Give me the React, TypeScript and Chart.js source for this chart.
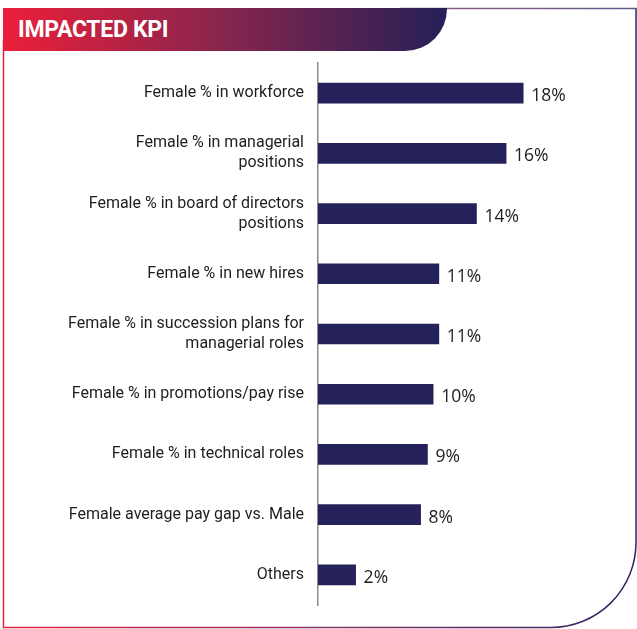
import React, { useEffect, useRef } from "react";
import { Chart, registerables } from "chart.js";

Chart.register(...registerables);

const title = "IMPACTED KPI";

const categories: string[][] = [
  ["Female % in workforce"],
  ["Female % in managerial", "positions"],
  ["Female % in board of directors", "positions"],
  ["Female % in new hires"],
  ["Female % in succession plans for", "managerial roles"],
  ["Female % in promotions/pay rise"],
  ["Female % in technical roles"],
  ["Female average pay gap vs. Male"],
  ["Others"],
];

const values = [18.0, 16.5, 13.9, 10.6, 10.6, 10.1, 9.6, 9.0, 3.3];

const valueLabels = ["18%", "16%", "14%", "11%", "11%", "10%", "9%", "8%", "2%"];

const BAR_COLOR = "#25215a";

export default function App() {
  const canvasRef = useRef<HTMLCanvasElement | null>(null);

  useEffect(() => {
    const canvas = canvasRef.current;
    if (!canvas) return;

    const valueLabelPlugin = {
      id: "valueLabels",
      afterDatasetsDraw(chart: any) {
        const ctx = chart.ctx;
        const meta = chart.getDatasetMeta(0);
        ctx.save();
        ctx.font = "17.5px 'Open Sans'";
        ctx.fillStyle = "#1e1e1e";
        ctx.textAlign = "left";
        ctx.textBaseline = "middle";
        meta.data.forEach((bar: any, i: number) => {
          ctx.fillText(valueLabels[i], bar.x + 8, bar.y + 3);
        });
        ctx.restore();
      },
    };

    const chart = new Chart(canvas, {
      type: "bar",
      data: {
        labels: categories,
        datasets: [
          {
            data: values,
            backgroundColor: BAR_COLOR,
            borderWidth: 0,
            barThickness: 20,
          },
        ],
      },
      options: {
        indexAxis: "y",
        animation: false,
        responsive: false,
        maintainAspectRatio: false,
        layout: { padding: { top: 63, bottom: 19, left: 0, right: 34 } },
        plugins: {
          legend: { display: false },
          tooltip: { enabled: false },
        },
        scales: {
          x: {
            display: false,
            min: 0,
            max: 25,
          },
          y: {
            afterFit: (scale: any) => {
              scale.width = 318;
            },
            grid: { display: false, drawTicks: false },
            border: { display: true, color: "#8c8c8c", width: 1.5 },
            ticks: {
              padding: 14,
              color: "#1e1e1e",
              font: { family: "Roboto", size: 16, lineHeight: 1.25 },
            },
          },
        },
      },
      plugins: [valueLabelPlugin],
    });

    return () => chart.destroy();
  }, []);

  return (
    <div
      style={{
        position: "absolute",
        left: 0,
        top: 0,
        width: 637,
        height: 629,
        background: "#ffffff",
        overflow: "hidden",
      }}
    >
      <svg
        width={637}
        height={629}
        style={{ position: "absolute", left: 0, top: 0 }}
      >
        <defs>
          <linearGradient id="frameGrad" x1="0" y1="0" x2="637" y2="0" gradientUnits="userSpaceOnUse">
            <stop offset="0" stopColor="#e8203a" />
            <stop offset="0.5" stopColor="#8a2f63" />
            <stop offset="1" stopColor="#2c2466" />
          </linearGradient>
          <linearGradient id="topGrad" x1="400" y1="0" x2="637" y2="0" gradientUnits="userSpaceOnUse">
            <stop offset="0" stopColor="#9a5e84" />
            <stop offset="1" stopColor="#5f5a8e" />
          </linearGradient>
        </defs>
        <path
          d="M 3.5 40 L 3.5 627.5 L 551 627.5 A 85 85 0 0 0 636 542.5 L 636 8.5"
          fill="none"
          stroke="url(#frameGrad)"
          strokeWidth={1.5}
        />
        <line x1={400} y1={8.5} x2={637} y2={8.5} stroke="url(#topGrad)" strokeWidth={1.5} />
      </svg>
      <div
        style={{
          position: "absolute",
          left: 3,
          top: 8,
          width: 444,
          height: 43,
          background: "linear-gradient(90deg, #ec1f3a 0%, #86254d 50%, #242058 100%)",
          borderBottomRightRadius: 42,
          boxSizing: "border-box",
          paddingLeft: 15,
          display: "flex",
          alignItems: "center",
          color: "#ffffff",
          fontFamily: "Roboto",
          fontWeight: 700,
          fontSize: 23,
          letterSpacing: -0.3,
        }}
      >
        {title}
      </div>
      <canvas
        ref={canvasRef}
        width={637}
        height={629}
        style={{ position: "absolute", left: 0, top: 0, width: 637, height: 629 }}
      />
    </div>
  );
}
